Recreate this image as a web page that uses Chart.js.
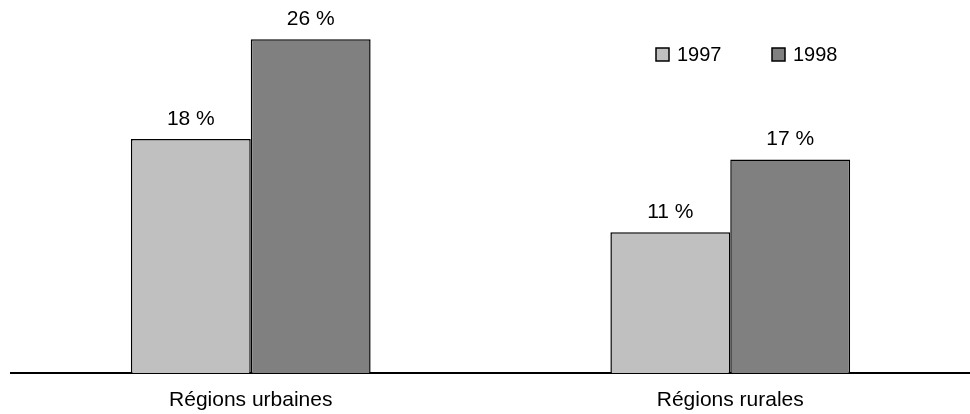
<!DOCTYPE html>
<html>
<head>
<meta charset="utf-8">
<script src="https://cdn.jsdelivr.net/npm/chart.js@4"></script>
<style>
html,body{margin:0;padding:0;background:#fff;}
#wrap{width:970px;height:414px;position:relative;}
</style>
</head>
<body>
<div id="wrap"><canvas id="c" width="970" height="414"></canvas></div>
<script>
const categories = ["Régions urbaines", "Régions rurales"];
const seriesNames = ["1997", "1998"];
const values1997 = [18.3, 11.0];
const values1998 = [26.1, 16.7];
const valueLabels1997 = ["18 %", "11 %"];
const valueLabels1998 = ["26 %", "17 %"];
const colors = ["#c0c0c0", "#808080"];

const FONT = "'Liberation Sans', Arial, sans-serif";

const valueLabelPlugin = {
  id: 'valueLabels',
  afterDatasetsDraw(chart) {
    const ctx = chart.ctx;
    const labelSets = [valueLabels1997, valueLabels1998];
    ctx.save();
    ctx.font = "21px " + FONT;
    ctx.fillStyle = "#000";
    ctx.textAlign = "center";
    ctx.textBaseline = "alphabetic";
    chart.data.datasets.forEach((ds, di) => {
      const meta = chart.getDatasetMeta(di);
      meta.data.forEach((bar, i) => {
        ctx.fillText(labelSets[di][i], bar.x, bar.y - 14);
      });
    });
    ctx.restore();
  }
};

const legendPlugin = {
  id: 'customLegend',
  afterDraw(chart) {
    const ctx = chart.ctx;
    const items = [{x: 656, tx: 677}, {x: 772, tx: 793}];
    ctx.save();
    ctx.font = "20px " + FONT;
    ctx.textAlign = "left";
    ctx.textBaseline = "middle";
    chart.data.datasets.forEach((ds, di) => {
      const it = items[di];
      ctx.fillStyle = ds.backgroundColor;
      ctx.fillRect(it.x, 48, 13, 13);
      ctx.lineWidth = 1.5;
      ctx.strokeStyle = "#000";
      ctx.strokeRect(it.x, 48, 13, 13);
      ctx.fillStyle = "#000";
      ctx.fillText(ds.label, it.tx, 55);
    });
    ctx.restore();
  }
};

new Chart(document.getElementById('c'), {
  type: 'bar',
  data: {
    labels: categories,
    datasets: [
      {label: seriesNames[0], data: values1997, backgroundColor: colors[0], borderColor: "#000", borderWidth: 1.5},
      {label: seriesNames[1], data: values1998, backgroundColor: colors[1], borderColor: "#000", borderWidth: 1.5}
    ]
  },
  options: {
    responsive: false,
    animation: false,
    events: [],
    layout: {padding: {left: 11, right: 0, top: 15, bottom: 0}},
    datasets: {bar: {categoryPercentage: 0.5, barPercentage: 1.0}},
    plugins: {legend: {display: false}, tooltip: {enabled: false}},
    scales: {
      x: {
        grid: {display: false, drawTicks: false},
        border: {display: true, color: "#000", width: 2},
        ticks: {color: "#000", font: {family: FONT, size: 21}, padding: 15},
        afterFit(scale) { scale.height = 41; }
      },
      y: {
        display: false,
        min: 0,
        max: 28
      }
    }
  },
  plugins: [valueLabelPlugin, legendPlugin]
});
</script>
</body>
</html>
